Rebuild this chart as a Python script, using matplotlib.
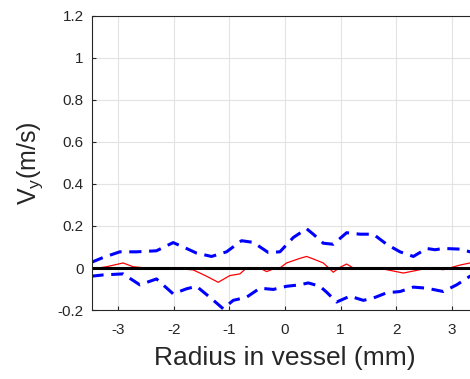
import numpy as np
import matplotlib.pyplot as plt

plt.rcParams['font.family'] = ['Liberation Sans', 'DejaVu Sans']
plt.rcParams['axes.unicode_minus'] = False

# upper bound (blue dashed)
up_x = [-3.48, -3.27, -2.97, -2.67, -2.31, -2.01, -1.77, -1.59, -1.32, -1.05, -0.78,
        -0.57, -0.30, -0.09, 0.15, 0.39, 0.51, 0.69, 0.87, 1.11, 1.35, 1.59, 1.83,
        2.07, 2.31, 2.55, 2.70, 2.85, 3.15, 3.33, 3.48]
up_y = [0.027, 0.050, 0.077, 0.077, 0.082, 0.121, 0.093, 0.071, 0.055, 0.077, 0.130,
        0.122, 0.074, 0.077, 0.145, 0.187, 0.161, 0.118, 0.113, 0.168, 0.161, 0.161,
        0.113, 0.077, 0.055, 0.093, 0.087, 0.093, 0.090, 0.077, 0.072]

# lower bound (blue dashed)
lo_x = [-3.48, -3.27, -2.91, -2.61, -2.31, -2.01, -1.77, -1.59, -1.32, -1.11, -0.93,
        -0.69, -0.45, -0.21, 0.03, 0.27, 0.42, 0.63, 0.75, 0.93, 1.17, 1.41, 1.59,
        1.83, 2.07, 2.31, 2.55, 2.85, 3.09, 3.33, 3.48]
lo_y = [-0.039, -0.033, -0.028, -0.080, -0.052, -0.123, -0.099, -0.087, -0.146, -0.194,
        -0.154, -0.139, -0.096, -0.102, -0.087, -0.080, -0.071, -0.087, -0.115, -0.162,
        -0.134, -0.154, -0.143, -0.118, -0.112, -0.091, -0.096, -0.112, -0.080, -0.039,
        -0.030]

# mean (red)
m_x = [-3.48, -3.21, -2.91, -2.73, -2.49, -2.25, -1.83, -1.65, -1.41, -1.20, -0.99,
       -0.81, -0.69, -0.45, -0.33, -0.21, -0.09, 0.03, 0.27, 0.39, 0.51, 0.69, 0.87,
       0.99, 1.11, 1.23, 1.59, 1.83, 2.13, 2.43, 2.55, 2.85, 3.15, 3.33, 3.48]
m_y = [-0.005, 0.006, 0.024, 0.006, 0.0, 0.0, -0.005, -0.009, -0.039, -0.068, -0.036,
       -0.028, 0.0, 0.0, -0.017, -0.005, 0.0, 0.024, 0.046, 0.055, 0.043, 0.024, -0.020,
       0.003, 0.019, 0.0, 0.0, -0.008, -0.024, -0.008, 0.0, -0.008, 0.014, 0.024, 0.02]

fig = plt.figure(figsize=(4.7, 3.79), dpi=100)
ax = fig.add_axes([0.1957, 0.182, 0.821, 0.776])

ax.plot(up_x, up_y, color='blue', lw=2.2, ls=(0, (4, 2.5)))
ax.plot(lo_x, lo_y, color='blue', lw=2.2, ls=(0, (4, 2.5)))
ax.plot(m_x, m_y, color='red', lw=0.9)
ax.axhline(0, color='black', lw=2.2)

ax.set_xlim(-3.47, 3.47)
ax.set_ylim(-0.2, 1.2)
ax.set_xticks([-3, -2, -1, 0, 1, 2, 3])
ax.set_yticks(np.arange(-0.2, 1.21, 0.2))
ax.set_yticklabels(['-0.2', '0', '0.2', '0.4', '0.6', '0.8', '1', '1.2'])
ax.grid(True, color='#e3e3e3', lw=0.8)
ax.set_axisbelow(True)
ax.tick_params(direction='in', colors='#262626', labelsize=11, length=3)
ax.tick_params(axis='x', pad=9)
ax.tick_params(axis='y', pad=6)
for s in ax.spines.values():
    s.set_color('#262626')
    s.set_linewidth(0.8)

ax.set_xlabel('Radius in vessel (mm)', fontsize=19, color='#262626', labelpad=7)
ax.set_ylabel('V$_\\mathregular{y}$(m/s)', fontsize=18, color='#262626', labelpad=9)

fig.savefig('out.png', dpi=100)
